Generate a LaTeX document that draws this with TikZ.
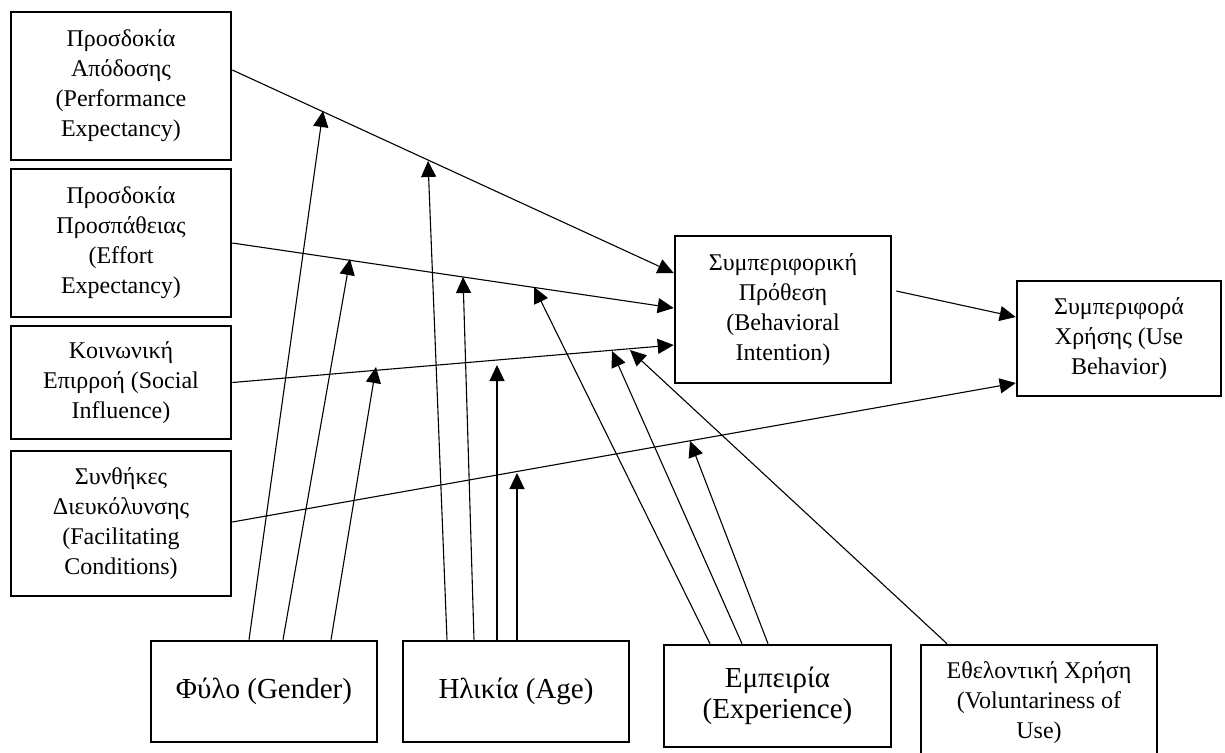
\documentclass[tikz,border=0pt]{standalone}
\usepackage{fontspec}
\setmainfont{Liberation Serif}
\usetikzlibrary{arrows.meta}
\begin{document}
\begin{tikzpicture}[x=1pt,y=-1pt,
  box/.style={draw, line width=2.6pt, align=center, inner sep=0pt, font=\fontsize{24}{30}\selectfont},
  big/.style={font=\fontsize{29}{31}\selectfont},
  conn/.style={line width=1.1pt, -{Triangle[length=16pt,width=15pt]}}]
\clip (0,0) rectangle (1225,752);
\fill[white] (0,0) rectangle (1225,752);
% constructs
\node[box, minimum width=220pt, minimum height=148pt] (pe) at (121,86) {Προσδοκία\\Απόδοσης\\(Performance\\Expectancy)};
\node[box, minimum width=220pt, minimum height=148pt] (ee) at (121,243) {Προσδοκία\\Προσπάθειας\\(Effort\\Expectancy)};
\node[box, minimum width=220pt, minimum height=113pt] (si) at (121,382.5) {Κοινωνική\\Επιρροή (Social\\Influence)};
\node[box, minimum width=220pt, minimum height=145pt] (fc) at (121,523.5) {Συνθήκες\\Διευκόλυνσης\\(Facilitating\\Conditions)};
\node[box, minimum width=216pt, minimum height=147pt] (bi) at (783,309.5) {Συμπεριφορική\\Πρόθεση\\(Behavioral\\Intention)};
\node[box, minimum width=204pt, minimum height=115pt] (ub) at (1119,338.5) {Συμπεριφορά\\Χρήσης (Use\\Behavior)};
% moderators
\node[box, big, minimum width=226pt, minimum height=101pt] (gen) at (264,691.5) {Φύλο (Gender)};
\node[box, big, minimum width=226pt, minimum height=101pt] (age) at (516,691.5) {Ηλικία (Age)};
\node[box, big, minimum width=227pt, minimum height=102pt] (exp) at (777.5,696) {Εμπειρία\\(Experience)};
\node[box, minimum width=236pt, minimum height=115pt] (vol) at (1039,702.5) {Εθελοντική Χρήση\\(Voluntariness of\\Use)};
% main paths
\draw[conn] ([yshift=16pt]pe.east) -- ([yshift=36.5pt]bi.west);
\draw[conn] (ee.east) -- ([yshift=1.5pt]bi.west);
\draw[conn] (si.east) -- ([yshift=-35.5pt]bi.west);
\draw[conn] ([yshift=1.5pt]fc.east) -- ([yshift=-44.5pt]ub.west);
\draw[conn] ([xshift=4pt,yshift=18.5pt]bi.east) -- ([yshift=21.5pt]ub.west);
% moderator arrow tips
\coordinate (tG1) at (323,111);
\coordinate (tG2) at (350,259);
\coordinate (tG3) at (376,367);
\coordinate (tA1) at (428,161);
\coordinate (tA2) at (463,277);
\coordinate (tA3) at (497,365);
\coordinate (tA4) at (517,473);
\coordinate (tE1) at (534,287);
\coordinate (tE2) at (612,351);
\coordinate (tE3) at (690,441);
\coordinate (tV) at (630,350);
% moderator arrows
\draw[conn] ([xshift=-15pt]gen.north) -- (tG1);
\draw[conn] ([xshift=19pt]gen.north) -- (tG2);
\draw[conn] ([xshift=67pt]gen.north) -- (tG3);
\draw[conn] ([xshift=-69pt]age.north) -- (tA1);
\draw[conn] ([xshift=-42pt]age.north) -- (tA2);
\draw[conn] ([xshift=-19pt]age.north) -- (tA3);
\draw[conn] ([xshift=1pt]age.north) -- (tA4);
\draw[conn] ([xshift=-67.5pt]exp.north) -- (tE1);
\draw[conn] ([xshift=-35.5pt]exp.north) -- (tE2);
\draw[conn] ([xshift=-9.5pt]exp.north) -- (tE3);
\draw[conn] ([xshift=-92pt]vol.north) -- (tV);
\end{tikzpicture}
\end{document}
